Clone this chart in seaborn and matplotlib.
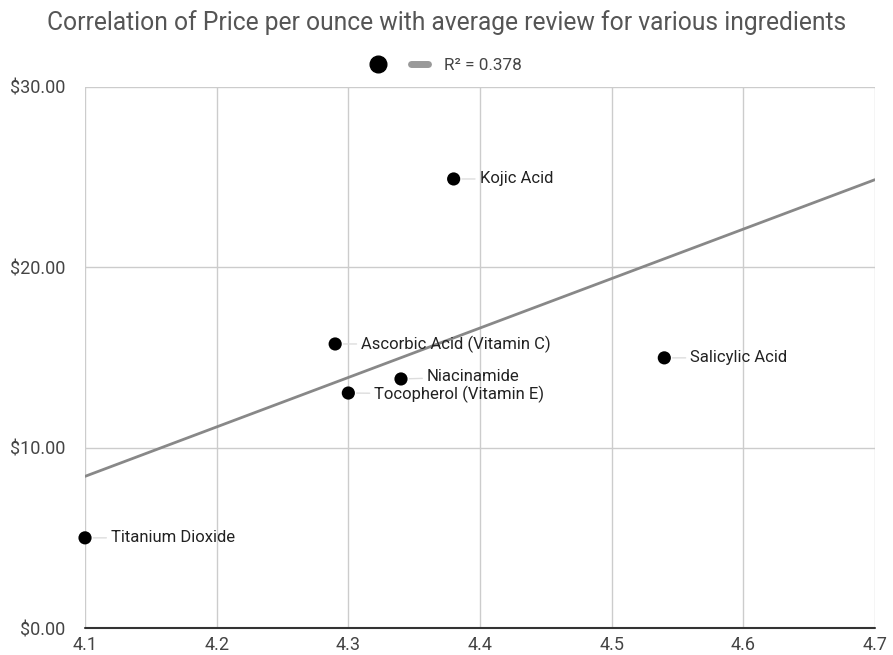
import numpy as np
import pandas as pd
import matplotlib
matplotlib.use("Agg")
import matplotlib.pyplot as plt
import seaborn as sns
from matplotlib.lines import Line2D
from matplotlib.ticker import FuncFormatter

# values
ingredients = ["Titanium Dioxide", "Kojic Acid", "Ascorbic Acid (Vitamin C)",
               "Niacinamide", "Tocopherol (Vitamin E)", "Salicylic Acid"]
avg_review = [4.10, 4.38, 4.29, 4.34, 4.30, 4.54]
price_per_oz = [5.00, 24.90, 15.75, 13.81, 13.03, 14.98]
x_ticks = [4.1, 4.2, 4.3, 4.4, 4.5, 4.6, 4.7]
y_ticks = [0, 10, 20, 30]

df = pd.DataFrame({"ingredient": ingredients, "review": avg_review, "price": price_per_oz})

sns.set_theme(style="white")
plt.rcParams["font.family"] = ["Roboto", "DejaVu Sans"]

fig = plt.figure(figsize=(8.93, 6.55), dpi=100)
ax = fig.add_axes([0.0952, 0.0412, 0.8846, 0.826])
ax.set_xlim(4.1, 4.7)
ax.set_ylim(0, 30)

# grid
for xt in x_ticks:
    ax.axvline(xt, color="#cccccc", lw=1, zorder=0)
for yt in y_ticks[1:]:
    ax.axhline(yt, color="#cccccc", lw=1, zorder=0)
ax.axhline(0, color="#333333", lw=1.5, zorder=1, clip_on=False)

# trendline (linear fit)
sns.regplot(data=df, x="review", y="price", scatter=False, ci=None, truncate=False,
            line_kws=dict(color="#888888", lw=2), ax=ax)
slope, intercept = np.polyfit(df["review"], df["price"], 1)
pred = slope * df["review"] + intercept
r2 = 1 - ((df["price"] - pred) ** 2).sum() / ((df["price"] - df["price"].mean()) ** 2).sum()

sns.scatterplot(data=df, x="review", y="price", color="black", s=90,
                edgecolor="none", ax=ax, zorder=4, clip_on=False)

# small vertical nudges so the two crowded labels don't collide
nudge = {"Niacinamide": 2, "Tocopherol (Vitamin E)": -1}
for _, row in df.iterrows():
    dy = nudge.get(row["ingredient"], 0)
    ax.annotate(row["ingredient"], xy=(row["review"], row["price"]),
                xytext=(26, dy), textcoords="offset pixels", va="center", ha="left",
                fontsize=12.0, color="#222222",
                arrowprops=dict(arrowstyle="-", color="#dddddd", lw=1,
                                shrinkA=1, shrinkB=6))

ax.set_xticks(x_ticks)
ax.set_yticks(y_ticks)
ax.xaxis.set_major_formatter(FuncFormatter(lambda v, p: f"{v:.1f}"))
ax.yaxis.set_major_formatter(FuncFormatter(lambda v, p: f"${v:.2f}"))
ax.tick_params(axis="y", labelsize=13, labelcolor="#444444", length=0, pad=14)
ax.tick_params(axis="x", labelsize=13, labelcolor="#444444", length=0, pad=6)
ax.set_xlabel("")
ax.set_ylabel("")
for s in ax.spines.values():
    s.set_visible(False)

fig.text(0.5, 0.966, "Correlation of Price per ounce with average review for various ingredients",
         ha="center", va="center", fontsize=17.7, color="#555555")

handles = [Line2D([], [], marker="o", color="black", ls="none", markersize=12),
           Line2D([], [], color="#999999", lw=5)]
fig.legend(handles, ["", f"R\u00b2 = {r2:.3f}"], loc="center", bbox_to_anchor=(0.499, 0.9),
           ncol=2, frameon=False, fontsize=12.3, handlelength=1.0, columnspacing=0.55,
           handletextpad=0.9, labelcolor="#444444")

fig.savefig("out.png", dpi=100)
